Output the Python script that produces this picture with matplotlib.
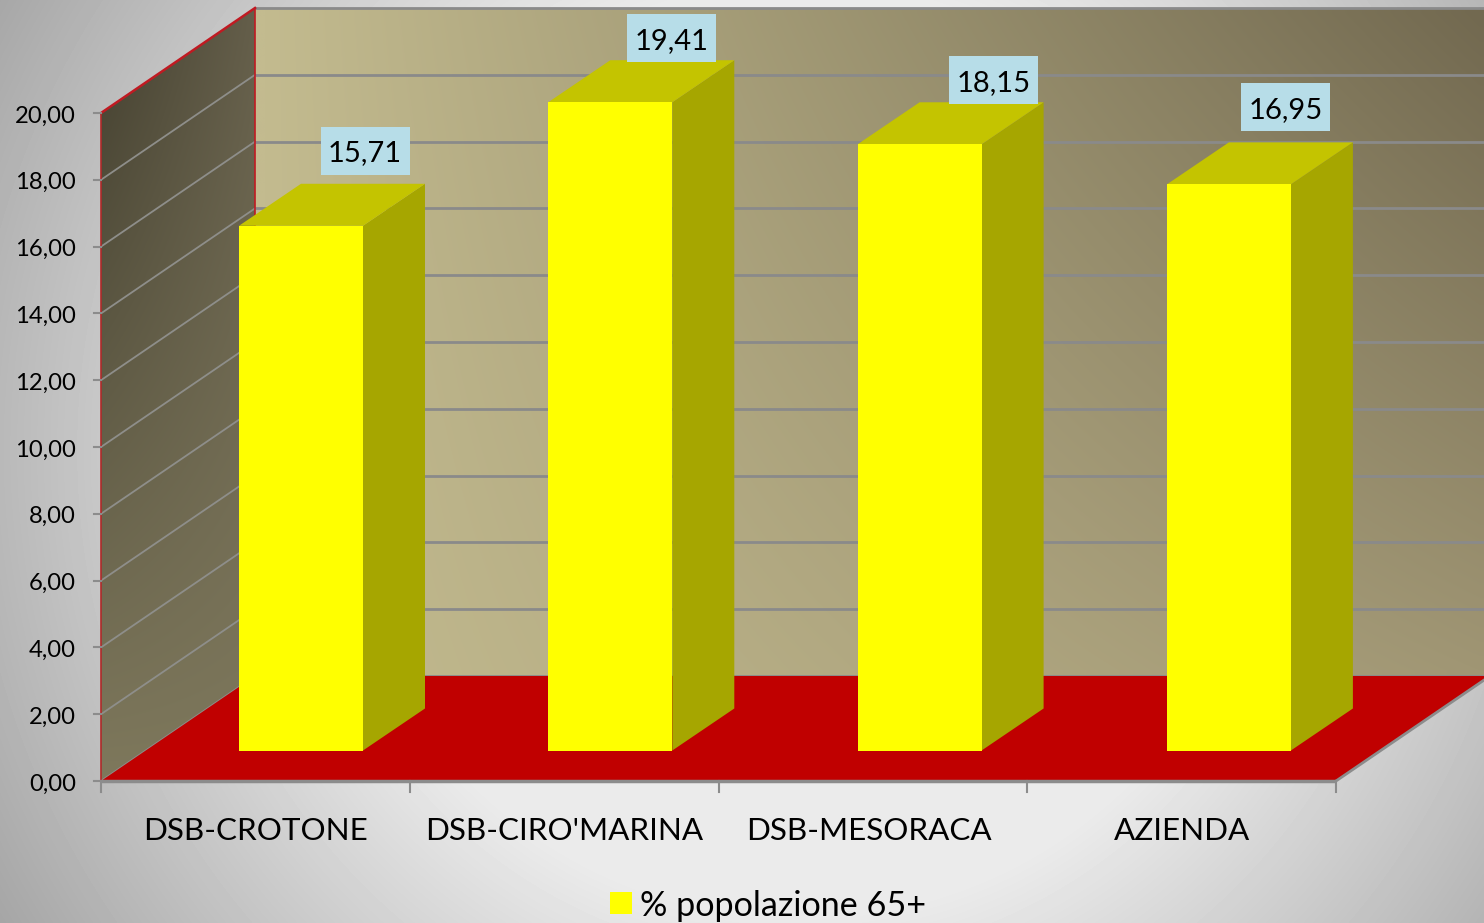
import numpy as np
import matplotlib
matplotlib.use("Agg")
import matplotlib.pyplot as plt
from matplotlib.patches import Polygon, Rectangle

categories = ["DSB-CROTONE", "DSB-CIRO'MARINA", "DSB-MESORACA", "AZIENDA"]
values = [15.71, 19.41, 18.15, 16.95]
labels = ["15,71", "19,41", "18,15", "16,95"]
y_ticks = [0, 2, 4, 6, 8, 10, 12, 14, 16, 18, 20]
y_tick_labels = ["0,00", "2,00", "4,00", "6,00", "8,00", "10,00", "12,00", "14,00", "16,00", "18,00", "20,00"]
legend_label = "% popolazione 65+"

# label placement relative to the top right corner of each bar's front face (pixels)
label_dx = [2, -1, 12, -5]
label_dy = [75, 64, 64, 77]

W, H = 1484, 923
plt.rcParams["font.family"] = ["Lato", "DejaVu Sans"]
fig = plt.figure(figsize=(W / 100, H / 100), dpi=100)

# background
bg = fig.add_axes([0, 0, 1, 1], zorder=0)
bg.set_axis_off()
yy, xx = np.mgrid[0:H, 0:W]
dist = np.hypot(xx - 800, yy - 450)
shade = np.clip((304 - 0.149 * dist) / 255, 0, 0.92)
bg.imshow(shade, cmap="gray", vmin=0, vmax=1, extent=(0, W, H, 0), aspect="auto")

# main axes: front plane of the 3D box
L, R, B, T = 101, 1336, 781, 113
ax = fig.add_axes([L / W, 1 - B / H, (R - L) / W, (B - T) / H], zorder=1)
ax.set_xlim(0, 4)
ax.set_ylim(0, 20)
ax.set_axis_off()

px_x = (R - L) / 4
px_y = (B - T) / 20
DX = 154 / px_x   # full depth in x data units
DY = 105 / px_y   # full depth in y data units


def grad(colors, poly, extent):
    """gradient image clipped to polygon; colors = 2x2 corners [[TL,TR],[BL,BR]]"""
    c = np.array(colors, float) / 255
    n = 64
    u, v = np.meshgrid(np.linspace(0, 1, n), np.linspace(0, 1, n))
    img = ((1 - v)[..., None] * ((1 - u)[..., None] * c[0, 0] + u[..., None] * c[0, 1])
           + v[..., None] * ((1 - u)[..., None] * c[1, 0] + u[..., None] * c[1, 1]))
    im = ax.imshow(img, extent=extent, aspect="auto", origin="upper", zorder=1, interpolation="bilinear")
    patch = Polygon(poly, closed=True, transform=ax.transData, fill=False, edgecolor="none")
    ax.add_patch(patch)
    patch.set_clip_on(False)
    im.set_clip_box(fig.bbox)
    im.set_clip_path(patch)
    ax.set_xlim(0, 4)
    ax.set_ylim(0, 20)


# back wall
back = [(DX, DY), (4 + DX, DY), (4 + DX, 20 + DY), (DX, 20 + DY)]
grad([[(195, 187, 143), (114, 105, 80)], [(195, 187, 143), (160, 150, 116)]],
     back, (DX, 4 + DX, DY, 20 + DY))
# side wall
side = [(0, 0), (DX, DY), (DX, 20 + DY), (0, 20)]
grad([[(68, 64, 48), (100, 94, 74)], [(126, 120, 92), (126, 120, 92)]],
     side, (0, DX, 0, 20 + DY))

grid_back = "#8a8a8a"
grid_side = "#8e8e8a"
for t in y_ticks:
    ax.plot([DX, 4 + DX], [t + DY, t + DY], color=grid_back, lw=2.0, clip_on=False, zorder=2,
            solid_capstyle="butt")
    if t < 20:
        ax.plot([0, DX], [t, t + DY], color=grid_side, lw=1.3, clip_on=False, zorder=2)

# red edges of the side wall
ax.plot([0, DX], [20, 20 + DY], color="#c01a22", lw=1.8, clip_on=False, zorder=3)
ax.plot([DX, DX], [DY, 20 + DY], color="#c01a22", lw=1.2, clip_on=False, zorder=3)
ax.plot([0, 0], [0, 20], color="#b02a2a", lw=1.2, clip_on=False, zorder=3)

# floor
floor = Polygon([(0, 0), (4, 0), (4 + DX, DY), (DX, DY)], closed=True, facecolor="#c00000",
                edgecolor="none", clip_on=False, zorder=3)
ax.add_patch(floor)
ax.plot([4, 4 + DX], [0, DY], color="#8c8c8c", lw=2, clip_on=False, zorder=3)
ax.plot([0, 4], [0, 0], color="#8c8c8c", lw=2.5, clip_on=False, zorder=3, solid_capstyle="butt")

# axis ticks
for t, lab in zip(y_ticks, y_tick_labels):
    ax.plot([-7 / px_x, 0], [t, t], color="#8c8c8c", lw=1.5, clip_on=False, zorder=3)
    ax.text(-25 / px_x, t - 1 / px_y, lab, ha="right", va="center_baseline", fontsize=17.2, color="black", clip_on=False)
for i in range(5):
    ax.plot([i, i], [-11 / px_y, 0], color="#8c8c8c", lw=1.5, clip_on=False, zorder=3)

cat_x = [255, 564, 869, 1182]
for i, c in enumerate(categories):
    x0 = (cat_x[i] - L) / px_x
    ax.text(x0, -(829 - B) / px_y, c, ha="center", va="center_baseline", fontsize=22.6, color="black", clip_on=False)

# bars
bar_w = 124 / px_x
pitch = 309.3 / px_x
front_dy = 30.5 / px_y
front_x0 = (239 - L) / px_x
depth_x = 62 / px_x
depth_y = 42 / px_y
for i, v in enumerate(values):
    x0 = front_x0 + i * pitch
    y0 = front_dy
    x1 = x0 + bar_w
    y1 = y0 + v
    ax.add_patch(Polygon([(x1, y0), (x1 + depth_x, y0 + depth_y), (x1 + depth_x, y1 + depth_y), (x1, y1)],
                         closed=True, facecolor="#a6a600", edgecolor="none", clip_on=False, zorder=4))
    ax.add_patch(Polygon([(x0, y1), (x1, y1), (x1 + depth_x, y1 + depth_y), (x0 + depth_x, y1 + depth_y)],
                         closed=True, facecolor="#c4c400", edgecolor="none", clip_on=False, zorder=4))
    ax.add_patch(Rectangle((x0, y0), bar_w, v, facecolor="#ffff00", edgecolor="none", clip_on=False, zorder=5))
    # data label
    cx = x1 + label_dx[i] / px_x
    cy = y1 + label_dy[i] / px_y
    ax.add_patch(Rectangle((cx - 44.5 / px_x, cy - 24 / px_y), 89 / px_x, 48 / px_y, facecolor="#b7dde8",
                           edgecolor="none", clip_on=False, zorder=6))
    ax.text(cx, cy, labels[i], ha="center", va="center_baseline", fontsize=21, color="black",
            clip_on=False, zorder=7)

# legend
ax.add_patch(Rectangle(((610 - L) / px_x, -(914 - B) / px_y), 22 / px_x, 22 / px_y, facecolor="#ffff00",
                       edgecolor="none", clip_on=False, zorder=5))
ax.text((639.5 - L) / px_x, -(902.5 - B) / px_y, legend_label, ha="left", va="center_baseline", fontsize=24.6,
        color="black", clip_on=False)

fig.savefig("out.png", dpi=100)
